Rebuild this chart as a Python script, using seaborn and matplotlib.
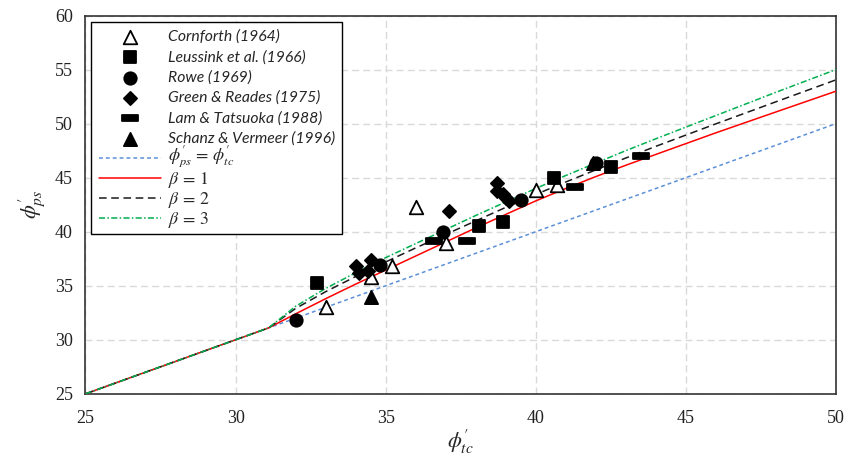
import numpy as np
import pandas as pd
import matplotlib
matplotlib.use("Agg")
import matplotlib.pyplot as plt
import seaborn as sns
from matplotlib.path import Path

# ---------------- data ----------------
cornforth_tc = [33.0, 34.5, 35.2, 36.0, 37.0, 40.0, 40.7]
cornforth_ps = [33.0, 35.8, 36.8, 42.3, 39.0, 43.9, 44.3]

leussink_tc = [32.7, 38.1, 38.9, 40.6, 42.5]
leussink_ps = [35.3, 40.5, 40.9, 45.0, 46.0]

rowe_tc = [32.0, 34.8, 36.9, 39.5, 42.0]
rowe_ps = [31.8, 36.9, 40.0, 42.9, 46.4]

green_tc = [34.0, 34.1, 34.4, 34.5, 37.1, 38.7, 38.7, 38.9, 39.0, 39.1]
green_ps = [36.8, 36.2, 36.4, 37.4, 41.9, 44.5, 43.8, 43.5, 43.1, 42.8]

lam_tc = [36.6, 37.7, 41.3, 43.5]
lam_ps = [39.1, 39.1, 44.1, 47.0]

schanz_tc = [34.5, 41.9]
schanz_ps = [34.0, 46.4]

# theoretical curves
curve_tc = [25.0, 31.1, 32, 33, 34, 35, 36, 37, 38, 39, 40, 41, 42, 43, 44, 46, 48, 50]
beta1_ps = [25.0, 31.1, 32.4, 33.8, 35.15, 36.45, 37.75, 39.05, 40.35, 41.6, 42.85,
            44.0, 45.1, 46.15, 47.15, 49.15, 51.08, 53.0]
beta2_ps = [25.0, 31.1, 32.9, 34.45, 35.85, 37.2, 38.5, 39.75, 41.0, 42.25, 43.45,
            44.6, 45.72, 46.82, 47.9, 49.98, 52.02, 54.05]
beta3_ps = [25.0, 31.1, 33.1, 34.75, 36.2, 37.6, 38.9, 40.2, 41.5, 42.75, 44.0,
            45.2, 46.35, 47.5, 48.6, 50.75, 52.9, 55.0]
equal_tc = [25.0, 50.0]
equal_ps = [25.0, 50.0]

line_labels = [r"$\phi^{\prime}_{ps}\,=\,\phi^{\prime}_{tc}$", r"$\beta\,=\,1$",
               r"$\beta\,=\,2$", r"$\beta\,=\,3$"]

x_ticks = [25, 30, 35, 40, 45, 50]
y_ticks = [25, 30, 35, 40, 45, 50, 55, 60]

# ---------------- style ----------------
sns.set_theme(style="white")
plt.rcParams["font.family"] = ["Liberation Serif", "DejaVu Serif"]
plt.rcParams["mathtext.fontset"] = "stix"

fig = plt.figure(figsize=(8.49, 4.59), dpi=100)
ax = fig.add_axes([0.1007, 0.142, 0.8838, 0.824])

# lines
def curve(xv, yv, lab, **kw):
    df = pd.DataFrame({"x": xv, "y": yv})
    sns.lineplot(data=df, x="x", y="y", ax=ax, sort=False, estimator=None,
                 label=lab, **kw)

# plain placeholders keep legend rows compact; math labels drawn after layout
curve(equal_tc, equal_ps, "phi", color="#5b8fd9", lw=1.1,
      linestyle=(0, (2.5, 2)), zorder=3)
curve(curve_tc, beta1_ps, "b1", color="#ff0000", lw=1.1, linestyle="-", zorder=4)
curve(curve_tc, beta2_ps, "b2", color="#1a1a1a", lw=1.1,
      linestyle=(0, (5, 3)), zorder=4)
curve(curve_tc, beta3_ps, "b3", color="#00b050", lw=1.1,
      linestyle=(0, (4, 1.5, 1, 1.5)), zorder=4)

rect_marker = Path([(-1, -0.42), (1, -0.42), (1, 0.42), (-1, 0.42), (-1, -0.42)],
                   [Path.MOVETO, Path.LINETO, Path.LINETO, Path.LINETO, Path.CLOSEPOLY])

def pts(xv, yv, marker, label, s, face="black"):
    df = pd.DataFrame({"x": xv, "y": yv})
    sns.scatterplot(data=df, x="x", y="y", ax=ax, marker=marker, s=s,
                    facecolor=face, edgecolor="black", linewidth=1.3,
                    label=label, zorder=5)

pts(cornforth_tc, cornforth_ps, "^", "Cornforth (1964)", 95, face="white")
pts(leussink_tc, leussink_ps, "s", "Leussink et al. (1966)", 70)
pts(rowe_tc, rowe_ps, "o", "Rowe (1969)", 80)
pts(green_tc, green_ps, "D", "Green & Reades (1975)", 45)
pts(lam_tc, lam_ps, rect_marker, "Lam & Tatsuoka (1988)", 140)
pts(schanz_tc, schanz_ps, "^", "Schanz & Vermeer (1996)", 90)

ax.set_xlim(25, 50)
ax.set_ylim(25, 60)
ax.set_xticks(x_ticks)
ax.set_yticks(y_ticks)
ax.set_xticklabels([str(t) for t in x_ticks])
ax.set_yticklabels([str(t) for t in y_ticks])
ax.tick_params(axis="both", which="major", labelsize=13, direction="out",
               length=5, width=1, color="#333333", labelcolor="#222222", pad=4)
ax.tick_params(axis="x", pad=7)
ax.grid(True, color="#d9d9d9", linestyle=(0, (5, 3)), linewidth=1)
ax.set_axisbelow(True)
for sp in ax.spines.values():
    sp.set_visible(True)
    sp.set_color("#333333")
    sp.set_linewidth(1.2)

ax.set_xlabel(r"$\phi^{\prime}_{tc}$", fontsize=16, labelpad=0)
ax.set_ylabel(r"$\phi^{\prime}_{ps}$", fontsize=16, labelpad=6)

# legend: markers first, then lines
h, l = ax.get_legend_handles_labels()
order = [4, 5, 6, 7, 8, 9, 0, 1, 2, 3]
h = [h[i] for i in order]
l = [l[i] for i in order]
leg = ax.legend(h, l, loc="upper left", bbox_to_anchor=(0.008, 0.982),
                frameon=True, fancybox=False, edgecolor="black", framealpha=1,
                fontsize=11.3, handlelength=4.0, handletextpad=0.4,
                labelspacing=0.39, borderpad=0.45, borderaxespad=0.0)
leg.get_frame().set_linewidth(1.0)
for t in leg.get_texts():
    t.set_fontfamily(["Lato", "DejaVu Sans"])
    t.set_fontstyle("italic")

fig.canvas.draw()
W, H = fig.bbox.width, fig.bbox.height
for i, (t, lab) in enumerate(zip(leg.get_texts()[6:], line_labels)):
    bb = t.get_window_extent()
    t.set_text("")
    dy = 0.006 if i == 0 else -0.002
    fig.text(bb.x0 / W, (bb.y0 + bb.y1) / 2 / H + dy, lab, fontsize=12.8,
             ha="left", va="center", zorder=10)

fig.savefig("out.png", dpi=100)
